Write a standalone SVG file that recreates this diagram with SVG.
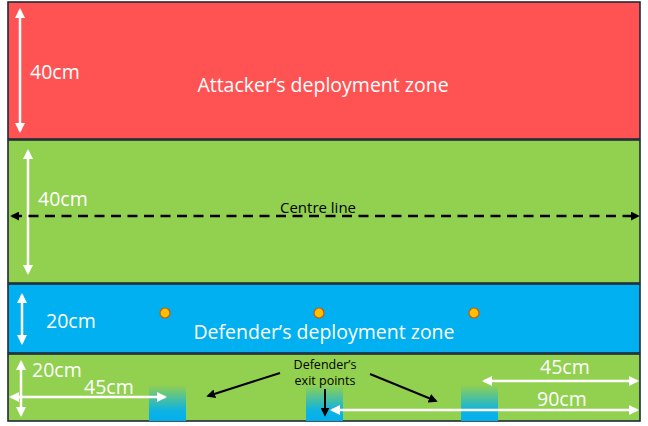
<svg xmlns="http://www.w3.org/2000/svg" width="648" height="426" viewBox="0 0 648 426">
<defs>
<style>
.zone{stroke:#1e2a36;stroke-width:1.6}
.dim{fill:#fff;font-family:"Open Sans","Liberation Sans",sans-serif;font-size:19.5px}
.title{fill:#fff;font-family:"Open Sans","Liberation Sans",sans-serif;font-size:19.5px;text-anchor:middle}
.lbl{fill:#000;font-family:"Open Sans","Liberation Sans",sans-serif;font-size:12.5px;text-anchor:middle}
.wa{stroke:#fff;stroke-width:2.5;fill:none;marker-start:url(#wh);marker-end:url(#wh)}
.ba{stroke:#000;stroke-width:2;fill:none;marker-end:url(#bh)}
</style>
<marker id="wh" viewBox="0 0 10 10" refX="8" refY="5" markerWidth="10" markerHeight="10" markerUnits="userSpaceOnUse" orient="auto-start-reverse"><path d="M0,0 L10,5 L0,10 Z" fill="#fff"/></marker>
<marker id="bh" viewBox="0 0 10 10" refX="8" refY="5" markerWidth="9" markerHeight="9" markerUnits="userSpaceOnUse" orient="auto-start-reverse"><path d="M0,0 L10,5 L0,10 Z" fill="#000"/></marker>
<linearGradient id="exitg" x1="0" y1="0" x2="0" y2="1">
<stop offset="0" stop-color="#00b0f0" stop-opacity="0"/>
<stop offset="0.7" stop-color="#00b0f0" stop-opacity="0.9"/>
<stop offset="1" stop-color="#00b0f0"/>
</linearGradient>
</defs>
<rect width="648" height="426" fill="#fff"/>
<g id="attacker-zone">
<rect class="zone" x="8" y="2" width="632" height="137" fill="#ff5353"/>
<text class="title" x="323" y="92">Attacker’s deployment zone</text>
</g>
<g id="middle-zone">
<rect class="zone" x="8" y="140" width="632" height="143" fill="#92d050"/>
<text x="318" y="213" style="fill:#000;font-family:'Open Sans','Liberation Sans',sans-serif;font-size:15px;text-anchor:middle">Centre line</text>
</g>
<g id="defender-zone">
<rect class="zone" x="8" y="284" width="632" height="69" fill="#00b0f0"/>
<text class="title" x="324" y="339">Defender’s deployment zone</text>
<circle cx="165" cy="313" r="5" fill="#ffc000" stroke="#c55a11" stroke-width="1.2"/>
<circle cx="319" cy="313" r="5" fill="#ffc000" stroke="#c55a11" stroke-width="1.2"/>
<circle cx="474" cy="313" r="5" fill="#ffc000" stroke="#c55a11" stroke-width="1.2"/>
</g>
<g id="exit-zone">
<rect class="zone" x="8" y="354" width="632" height="67" fill="#92d050"/>
<rect x="149" y="385" width="37" height="36" fill="url(#exitg)"/>
<rect x="306" y="385" width="37" height="36" fill="url(#exitg)"/>
<rect x="461" y="385" width="37" height="36" fill="url(#exitg)"/>
<text class="lbl" x="325" y="369">Defender’s</text>
<text class="lbl" x="325" y="385">exit points</text>
</g>
<g id="labels">
<text class="dim" x="30" y="79">40cm</text>
<text class="dim" x="38" y="206">40cm</text>
<text class="dim" x="46" y="328">20cm</text>
<text class="dim" x="32" y="377">20cm</text>
<text class="dim" x="84" y="394">45cm</text>
<text class="dim" x="540" y="374">45cm</text>
<text class="dim" x="537" y="406">90cm</text>
</g>
<g id="connectors">
<line class="wa" x1="20" y1="10" x2="20" y2="131"/>
<line class="wa" x1="28" y1="151" x2="28" y2="273"/>
<line x1="12" y1="216" x2="638" y2="216" stroke="#000" stroke-width="2.5" stroke-dasharray="10,6.5" marker-start="url(#bh)" marker-end="url(#bh)"/>
<line class="wa" x1="22" y1="295" x2="22" y2="343"/>
<line class="wa" x1="21" y1="362" x2="21" y2="415"/>
<line class="wa" x1="11" y1="397" x2="165" y2="397"/>
<line class="wa" x1="484" y1="381" x2="637" y2="381"/>
<line class="wa" x1="332" y1="410" x2="637" y2="410"/>
<line class="ba" x1="280" y1="373" x2="208" y2="396"/>
<line class="ba" x1="370" y1="374" x2="436" y2="401"/>
<line class="ba" x1="325" y1="389" x2="325" y2="415"/>
</g>
</svg>
